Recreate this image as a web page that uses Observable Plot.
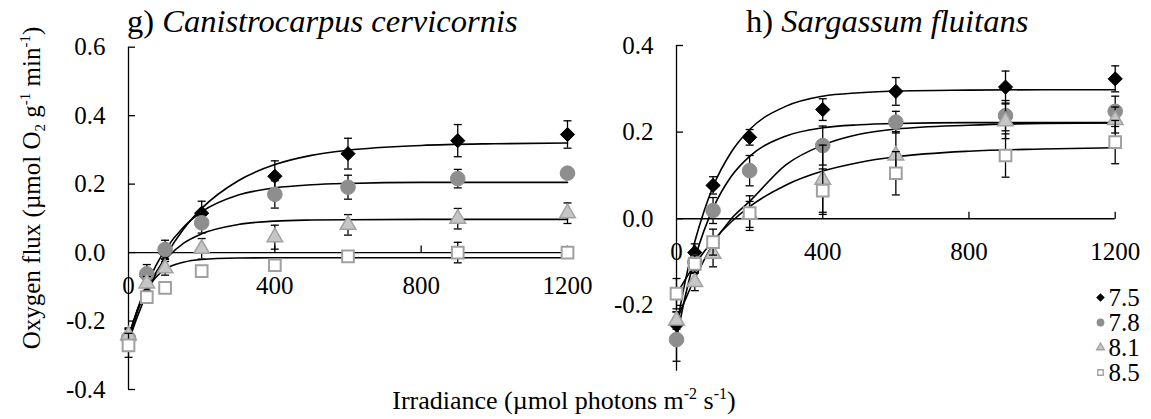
<!DOCTYPE html>
<html><head><meta charset="utf-8">
<script src="https://cdn.jsdelivr.net/npm/d3@7"></script>
<script src="https://cdn.jsdelivr.net/npm/@observablehq/plot@0.6"></script>
<style>
html,body{margin:0;padding:0;background:#fff;}
#wrap{position:relative;width:1151px;height:419px;overflow:hidden;font-family:"Liberation Serif","Times New Roman",serif;}
#wrap > svg{position:absolute;}
</style></head><body><div id="wrap"></div>
<script>
// ---------- data ----------
const irradiance = [0, 50, 100, 200, 400, 600, 900, 1200];
const phLevels = ["7.5", "7.8", "8.1", "8.5"];

// panel g) Canistrocarpus cervicornis
const gMean75 = [-0.255, -0.070, 0.000, 0.115, 0.223, 0.289, 0.327, 0.345];
const gMean78 = [-0.250, -0.062, 0.009, 0.087, 0.170, 0.191, 0.216, 0.232];
const gMean81 = [-0.242, -0.090, -0.046, 0.011, 0.045, 0.081, 0.099, 0.115];
const gMean85 = [-0.271, -0.130, -0.103, -0.054, -0.037, -0.011, 0.000, 0.000];
const gErr75 = [0.030, 0.020, 0.020, 0.035, 0.045, 0.045, 0.047, 0.040];
const gErr78 = [0.030, 0.027, 0.027, 0.030, 0.040, 0.035, 0.027, 0.015];
const gErr81 = [0.020, 0.020, 0.020, 0.030, 0.035, 0.030, 0.030, 0.030];
const gErr85 = [0.035, 0.015, 0.015, 0.010, 0.015, 0.010, 0.030, 0.010];

// panel h) Sargassum fluitans
const hMean75 = [-0.245, -0.078, 0.077, 0.188, 0.252, 0.294, 0.304, 0.323];
const hMean78 = [-0.279, -0.100, 0.019, 0.111, 0.169, 0.223, 0.238, 0.248];
const hMean81 = [-0.235, -0.146, -0.081, 0.010, 0.090, 0.146, 0.225, 0.228];
const hMean85 = [-0.173, -0.104, -0.054, 0.013, 0.065, 0.105, 0.146, 0.177];
const hErr75 = [0.030, 0.020, 0.020, 0.018, 0.025, 0.032, 0.037, 0.030];
const hErr78 = [0.050, 0.020, 0.030, 0.035, 0.045, 0.025, 0.035, 0.035];
const hErr81 = [0.020, 0.020, 0.030, 0.030, 0.080, 0.055, 0.040, 0.030];
const hErr85 = [0.035, 0.020, 0.030, 0.040, 0.050, 0.050, 0.050, 0.050];

// fitted light-response curves
const fitIrr = [0, 25, 50, 75, 100, 150, 200, 300, 400, 500, 600, 800, 1000, 1200];
const gFit75 = [-0.260, -0.185, -0.119, -0.062, -0.013, 0.068, 0.129, 0.210, 0.257, 0.284, 0.299, 0.313, 0.318, 0.320];
const gFit78 = [-0.250, -0.164, -0.095, -0.038, 0.007, 0.074, 0.119, 0.168, 0.189, 0.198, 0.202, 0.205, 0.205, 0.205];
const gFit81 = [-0.245, -0.166, -0.105, -0.058, -0.022, 0.027, 0.055, 0.082, 0.092, 0.095, 0.096, 0.097, 0.097, 0.097];
const gFit85 = [-0.270, -0.170, -0.109, -0.072, -0.049, -0.028, -0.020, -0.016, -0.015, -0.015, -0.015, -0.015, -0.015, -0.015];
const hFit75 = [-0.250, -0.140, -0.053, 0.017, 0.074, 0.154, 0.206, 0.260, 0.283, 0.291, 0.295, 0.297, 0.298, 0.298];
const hFit78 = [-0.278, -0.175, -0.093, -0.028, 0.024, 0.098, 0.144, 0.191, 0.210, 0.217, 0.220, 0.222, 0.222, 0.222];
const hFit81 = [-0.235, -0.185, -0.138, -0.096, -0.058, 0.000, 0.040, 0.125, 0.170, 0.195, 0.207, 0.216, 0.220, 0.221];
const hFit85 = [-0.175, -0.139, -0.106, -0.077, -0.051, -0.007, 0.028, 0.078, 0.110, 0.130, 0.143, 0.156, 0.161, 0.164];

const xTicks = [0, 400, 800, 1200];
const gYTicks = [-0.4, -0.2, 0.0, 0.2, 0.4, 0.6];
const hYTicks = [-0.2, 0.0, 0.2, 0.4];

// ---------- styling ----------
const FONT = "'Liberation Serif', 'Times New Roman', serif";
const seriesStyle = {
  "7.5": {symbol: "diamond2", fill: "#000", stroke: "#000", strokeWidth: 1, r: 6.4},
  "7.8": {symbol: "circle", fill: "#8e8e8e", stroke: "#8e8e8e", strokeWidth: 1, r: 7.3},
  "8.1": {symbol: "triangle", fill: "#c6c6c6", stroke: "#a2a2a2", strokeWidth: 1.5, r: 5.8},
  "8.5": {symbol: "square", fill: "#fff", stroke: "#a0a0a0", strokeWidth: 2, r: 6.6}
};
const tickUp = {draw(ctx) { ctx.moveTo(0, 0); ctx.lineTo(0, -7); }};
const capSym = {draw(ctx) { ctx.moveTo(-4, 0); ctx.lineTo(4, 0); }};

function rows(means, errs) {
  return phLevels.flatMap((ph, k) => irradiance.map((x, i) => ({ph, x, y: means[k][i], e: errs[k][i]})));
}
function fitRows(fits) {
  return phLevels.flatMap((ph, k) => fitIrr.map((x, i) => ({ph, x, y: fits[k][i]})));
}

function panel({left, width, mL, mR, mT, mB, yDomain, yTicks, pts, fits}) {
  const innerW = width - mL - mR;
  const marks = [
    Plot.ruleY([0], {stroke: "#000", strokeWidth: 1.3}),
    Plot.ruleX([0], {stroke: "#000", strokeWidth: 1.3}),
    Plot.tickY(yTicks, {y: d => d, stroke: "#000", strokeWidth: 1.3, insetRight: innerW - 7}),
    Plot.dot(xTicks.filter(d => d > 0), {x: d => d, y: () => 0, symbol: tickUp, stroke: "#000", strokeWidth: 1.3, fill: "none"}),
    Plot.axisY(yTicks, {tickSize: 0, tickPadding: 23, label: null, tickFormat: d => d.toFixed(1), fontSize: 25, fontFamily: FONT, fill: "#000"}),
    Plot.text(xTicks, {x: d => d, y: () => 0, text: d => String(d), lineAnchor: "top", dy: 24, fontSize: 25, fontFamily: FONT, fill: "#000"}),
    Plot.line(fits, {x: "x", y: "y", z: "ph", stroke: "#000", strokeWidth: 1.6, curve: "monotone-x"})
  ];
  for (const ph of phLevels) {
    const d = pts.filter(p => p.ph === ph);
    const s = seriesStyle[ph];
    marks.push(
      Plot.ruleX(d, {x: "x", y1: p => p.y - p.e, y2: p => p.y + p.e, stroke: "#000", strokeWidth: 1.3}),
      Plot.dot(d, {x: "x", y: p => p.y + p.e, symbol: capSym, stroke: "#000", strokeWidth: 1.3, fill: "none"}),
      Plot.dot(d, {x: "x", y: p => p.y - p.e, symbol: capSym, stroke: "#000", strokeWidth: 1.3, fill: "none"}),
      Plot.dot(d, {x: "x", y: "y", symbol: s.symbol, fill: s.fill, stroke: s.stroke, strokeWidth: s.strokeWidth, r: s.r, ariaLabel: "marker"})
    );
  }
  const svg = Plot.plot({
    width, height: 419, marginLeft: mL, marginRight: mR, marginTop: mT, marginBottom: mB,
    x: {domain: [0, 1200], axis: null},
    y: {domain: yDomain, axis: null},
    style: {fontFamily: FONT, background: "transparent", overflow: "visible"},
    marks
  });
  svg.style.left = left + "px";
  svg.style.top = "0px";
  return svg;
}

const wrap = document.getElementById("wrap");

wrap.appendChild(panel({
  left: 0, width: 575, mL: 128, mR: 8, mT: 46.7, mB: 30,
  yDomain: [-0.4, 0.6], yTicks: gYTicks,
  pts: rows([gMean75, gMean78, gMean81, gMean85], [gErr75, gErr78, gErr81, gErr85]),
  fits: fitRows([gFit75, gFit78, gFit81, gFit85])
}));
wrap.appendChild(panel({
  left: 576, width: 575, mL: 100, mR: 36.3, mT: 45, mB: 48.3,
  yDomain: [-0.352, 0.4], yTicks: hYTicks,
  pts: rows([hMean75, hMean78, hMean81, hMean85], [hErr75, hErr78, hErr81, hErr85]),
  fits: fitRows([hFit75, hFit78, hFit81, hFit85])
}));

// legend (small Plot with a point scale)
const legendRows = phLevels.map(ph => ({ph}));
const legend = Plot.plot({
  width: 60, height: 99, margin: 0, marginTop: 12, marginBottom: 12,
  y: {type: "point", domain: phLevels, axis: null, padding: 0},
  style: {fontFamily: FONT, background: "transparent", overflow: "visible"},
  marks: [
    Plot.dot(legendRows, {y: "ph", frameAnchor: "left", dx: 8,
      symbol: d => seriesStyle[d.ph].symbol, fill: d => seriesStyle[d.ph].fill, stroke: d => seriesStyle[d.ph].stroke,
      strokeWidth: 1.3, r: d => seriesStyle[d.ph].r * 0.8}),
    Plot.text(legendRows, {y: "ph", text: "ph", frameAnchor: "left", dx: 16, textAnchor: "start", fontSize: 25, fontFamily: FONT, fill: "#000"})
  ]
});
legend.style.left = "1092px";
legend.style.top = "285px";
wrap.appendChild(legend);

// soft shadow like the original markers
d3.select(wrap).selectAll('g[aria-label="marker"]').style("filter", "drop-shadow(0px 0px 1.2px rgba(0,0,0,0.45))");

// titles overlay
const ov = d3.select(wrap).append("svg").attr("width", 1151).attr("height", 419)
  .style("left", "0px").style("top", "0px").style("overflow", "visible")
  .attr("font-family", FONT).attr("fill", "#000");

function title(x, label, species) {
  const t = ov.append("text").attr("x", x).attr("y", 32).attr("font-size", 32.5);
  t.append("tspan").text(label + " ");
  t.append("tspan").attr("font-style", "italic").text(species);
}
title(127, "g)", "Canistrocarpus cervicornis");
title(746, "h)", "Sargassum fluitans");

// y-axis title
const yt = ov.append("text").attr("transform", "translate(40,188) rotate(-90)")
  .attr("text-anchor", "middle").attr("font-size", 25);
yt.append("tspan").text("Oxygen flux (µmol O");
yt.append("tspan").attr("font-size", 15).attr("dy", 5).text("2");
yt.append("tspan").attr("dy", -5).text(" g");
yt.append("tspan").attr("font-size", 15).attr("dy", -10).text("-1");
yt.append("tspan").attr("dy", 10).text(" min");
yt.append("tspan").attr("font-size", 15).attr("dy", -10).text("-1");
yt.append("tspan").attr("dy", 10).text(")");

// x-axis title
const xt = ov.append("text").attr("x", 564).attr("y", 409)
  .attr("text-anchor", "middle").attr("font-size", 26);
xt.append("tspan").text("Irradiance (µmol photons m");
xt.append("tspan").attr("font-size", 16).attr("dy", -10).text("-2");
xt.append("tspan").attr("dy", 10).text(" s");
xt.append("tspan").attr("font-size", 16).attr("dy", -10).text("-1");
xt.append("tspan").attr("dy", 10).text(")");
</script>
</body></html>
